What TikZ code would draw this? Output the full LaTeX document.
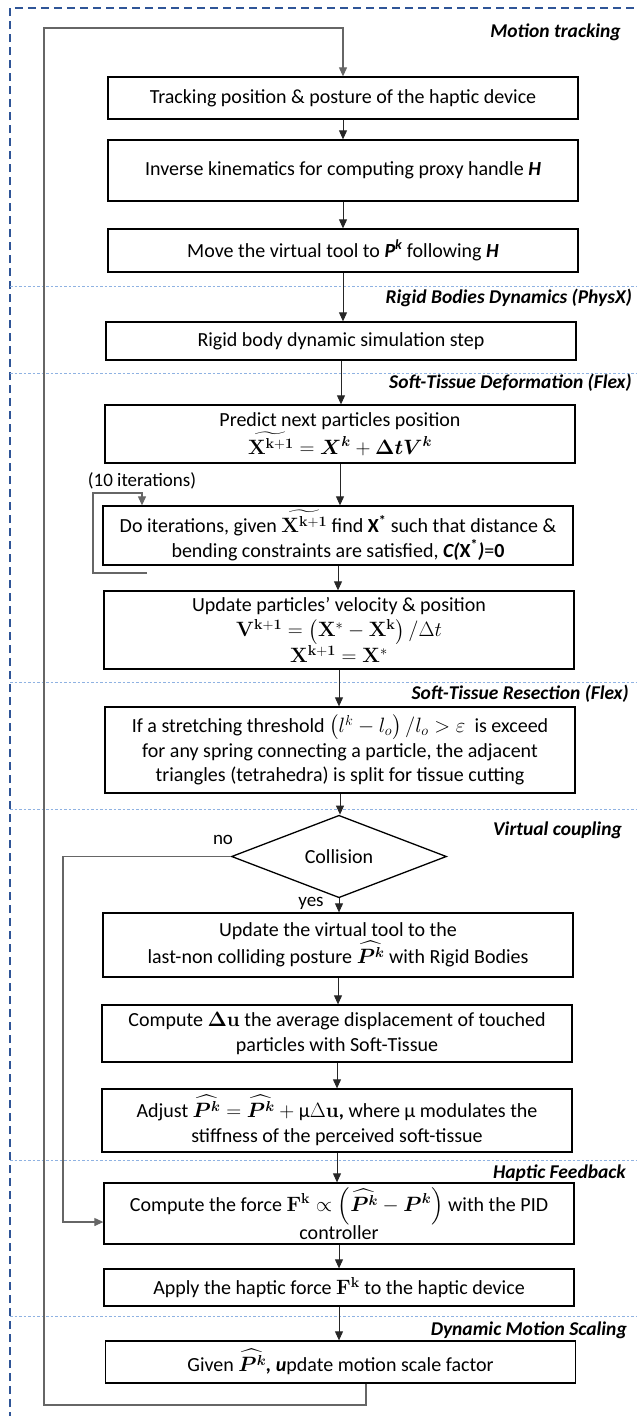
\documentclass[tikz,border=0pt]{standalone}
\usepackage{amsmath,bm}
\usepackage[no-math]{fontspec}
\setmainfont{Carlito}
\usetikzlibrary{arrows.meta,shapes.geometric}
\definecolor{sepblue}{RGB}{143,178,226}
\definecolor{frameblue}{RGB}{47,85,151}
\begin{document}
\begin{tikzpicture}[x=1pt,y=-1pt,
  box/.style={draw=black, line width=1.3pt, minimum width=470pt, align=center, inner sep=2pt, font=\fontsize{20}{24.5}\selectfont},
  lab/.style={anchor=east, inner sep=0pt, font=\fontsize{19.5}{22}\selectfont\bfseries\itshape},
  txt/.style={inner sep=0pt, font=\fontsize{19}{22}\selectfont},
  flow/.style={draw=black!85, line width=0.9pt, -{Triangle[length=9pt,width=8pt]}},
  loopline/.style={draw=black!60, line width=1.1pt},
  sep/.style={draw=sepblue, line width=1pt, dash pattern=on 2.5pt off 2pt},
  outerframe/.style={draw=frameblue, line width=1.5pt, dash pattern=on 8pt off 5pt}]

\useasboundingbox (0,0) rectangle (637,1416);

% outer frame
\coordinate (F1) at (10,1420);
\coordinate (F2) at (10,8);
\coordinate (F3) at (640,8);
\draw[outerframe] (F1) -- (F2) -- (F3);

% separators
\foreach \yy/\nm in {286/s1,373/s2,682/s3,809/s4,1160/s5,1316/s6}{
  \coordinate (\nm a) at (10,\yy);
  \coordinate (\nm b) at (640,\yy);
  \draw[sep] (\nm a) -- (\nm b);
}

% section labels
\node[lab] (l1) at (621,32) {Motion tracking};
\node[lab] (l2) at (632,298) {Rigid Bodies Dynamics (PhysX)};
\node[lab] (l3) at (632,383) {Soft-Tissue Deformation (Flex)};
\node[lab] (l4) at (629,694) {Soft-Tissue Resection (Flex)};
\node[lab] (l5) at (622,830) {Virtual coupling};
\node[lab] (l6) at (626,1173) {Haptic Feedback};
\node[lab] (l7) at (627,1330) {Dynamic Motion Scaling};

% boxes
\node[box, minimum height=42pt] (b1) at (343,98) {Tracking position \& posture of the haptic device};
\node[box, minimum height=61pt] (b2) at (343,170.5) {Inverse kinematics for computing proxy handle \textbf{\textit{H}}};
\node[box, minimum height=43pt] (b3) at (343,250.5) {Move the virtual tool to \textbf{\textit{P\textsuperscript{k}}} following \textbf{\textit{H}}};
\node[box, minimum height=38pt] (b4) at (341,341) {Rigid body dynamic simulation step};
\node[box, minimum height=58pt] (b5) at (340,434) {Predict next particles position\\[1pt]$\widetilde{\mathbf{X}^{\mathbf{k+1}}}=\bm{X}^{\bm{k}}+\bm{\Delta t V}^{\bm{k}}$};
\node[box, minimum height=59pt] (b6) at (338,535.5) {Do iterations, given $\widetilde{\mathbf{X}^{\mathbf{k+1}}}$ find \textbf{X\textsuperscript{*}} such that distance \&\\bending constraints are satisfied, \textbf{\textit{C(}X\textsuperscript{*}\textit{)}}=\textbf{0}};
\node[box, minimum height=78pt] (b7) at (339,630) {Update particles’ velocity \& position\\[1pt]$\mathbf{V}^{\mathbf{k+1}}=\left(\mathbf{X}^{*}-\mathbf{X}^{\mathbf{k}}\right)/\Delta t$\\$\mathbf{X}^{\mathbf{k+1}}=\mathbf{X}^{*}$};
\node[box, minimum height=86pt] (b8) at (340,750) {If a stretching threshold $\left(l^k-l_o\right)/l_o>\varepsilon$\ \ is exceed\\for any spring connecting a particle, the adjacent\\triangles (tetrahedra) is split for tissue cutting};
\node[draw=black, line width=1.3pt, diamond, inner sep=0pt, minimum width=215pt, minimum height=65pt, font=\fontsize{20}{24}\selectfont] (dia) at (339,856.5) {Collision};
\node[box, minimum height=64pt] (b9) at (338,945) {Update the virtual tool to the\\last-non colliding posture $\widehat{\bm{P}^{\bm{k}}}$ with Rigid Bodies};
\node[box, minimum height=57pt] (b10) at (337,1033.5) {Compute $\bm{\Delta}\mathbf{u}$ the average displacement of touched\\particles with Soft-Tissue};
\node[box, minimum height=63pt] (b11) at (337,1120.5) {Adjust $\widehat{\bm{P}^{\bm{k}}}=\widehat{\bm{P}^{\bm{k}}}+\text{µ}\Delta\mathbf{u}$\textbf{,} where µ modulates the\\stiffness of the perceived soft-tissue};
\node[box, minimum height=61pt] (b12) at (339,1213.5) {Compute the force $\mathbf{F}^{\mathbf{k}}\propto\left(\widehat{\bm{P}^{\bm{k}}}-\bm{P}^{\bm{k}}\right)$ with the PID\\controller};
\node[box, minimum height=37pt] (b13) at (339,1287.5) {Apply the haptic force $\mathbf{F}^{\mathbf{k}}$ to the haptic device};
\node[box, minimum height=42pt] (b14) at (340.5,1362) {Given $\widehat{\bm{P}^{\bm{k}}}$\textbf{\textit{, u}}pdate motion scale factor};

% small texts
\node[txt] (it) at (142,481) {(10 iterations)};
\node[txt] (no) at (223,840) {no};
\node[txt] (yes) at (311,903) {yes};

% main flow
\draw[flow] (b1) -- (b2);
\draw[flow] (b2) -- (b3);
\draw[flow] (b3.south) -- (b4.north -| b3.south);
\draw[flow] (b4.south) -- (b5.north -| b4.south);
\draw[flow] (b5.south) -- (b6.north -| b5.south);
\draw[flow] (b6.south) -- (b7.north -| b6.south);
\draw[flow] (b7.south) -- (b8.north -| b7.south);
\draw[flow] (b8.south) -- (dia.north -| b8.south);
\draw[flow] (dia.south) -- (b9.north -| dia.south);
\draw[flow] (b9.south) -- (b10.north -| b9.south);
\draw[flow] (b10.south) -- (b11.north -| b10.south);
\draw[flow] (b11.south) -- (b12.north -| b11.south);
\draw[flow] (b12.south) -- (b13.north -| b12.south);
\draw[flow] (b13.south) -- (b14.north -| b13.south);

% iteration bracket
\coordinate (I1) at (147,573);
\coordinate (I2) at (93,573);
\coordinate (I3) at (93,493);
\coordinate (I4) at (142,493);
\draw[loopline, -{Triangle[length=9pt,width=8pt]}] (I1) -- (I2) -- (I3) -- (I4) -- (I4 |- b6.north);

% no branch
\coordinate (N1) at (63,856.5);
\coordinate (N2) at (63,1222);
\draw[loopline, -{Triangle[length=9pt,width=8pt]}] (dia.west) -- (N1) -- (N2) -- (N2 -| b12.west);

% main loop
\coordinate (L0) at (366,1362);
\coordinate (L1) at (366,1405);
\coordinate (L2) at (44,1405);
\coordinate (L3) at (44,28);
\coordinate (L4) at (343,28);
\draw[loopline, -{Triangle[length=9pt,width=8pt]}] (L0 |- b14.south) -- (L1) -- (L2) -- (L3) -- (L4) -- (L4 |- b1.north);
\end{tikzpicture}
\end{document}
